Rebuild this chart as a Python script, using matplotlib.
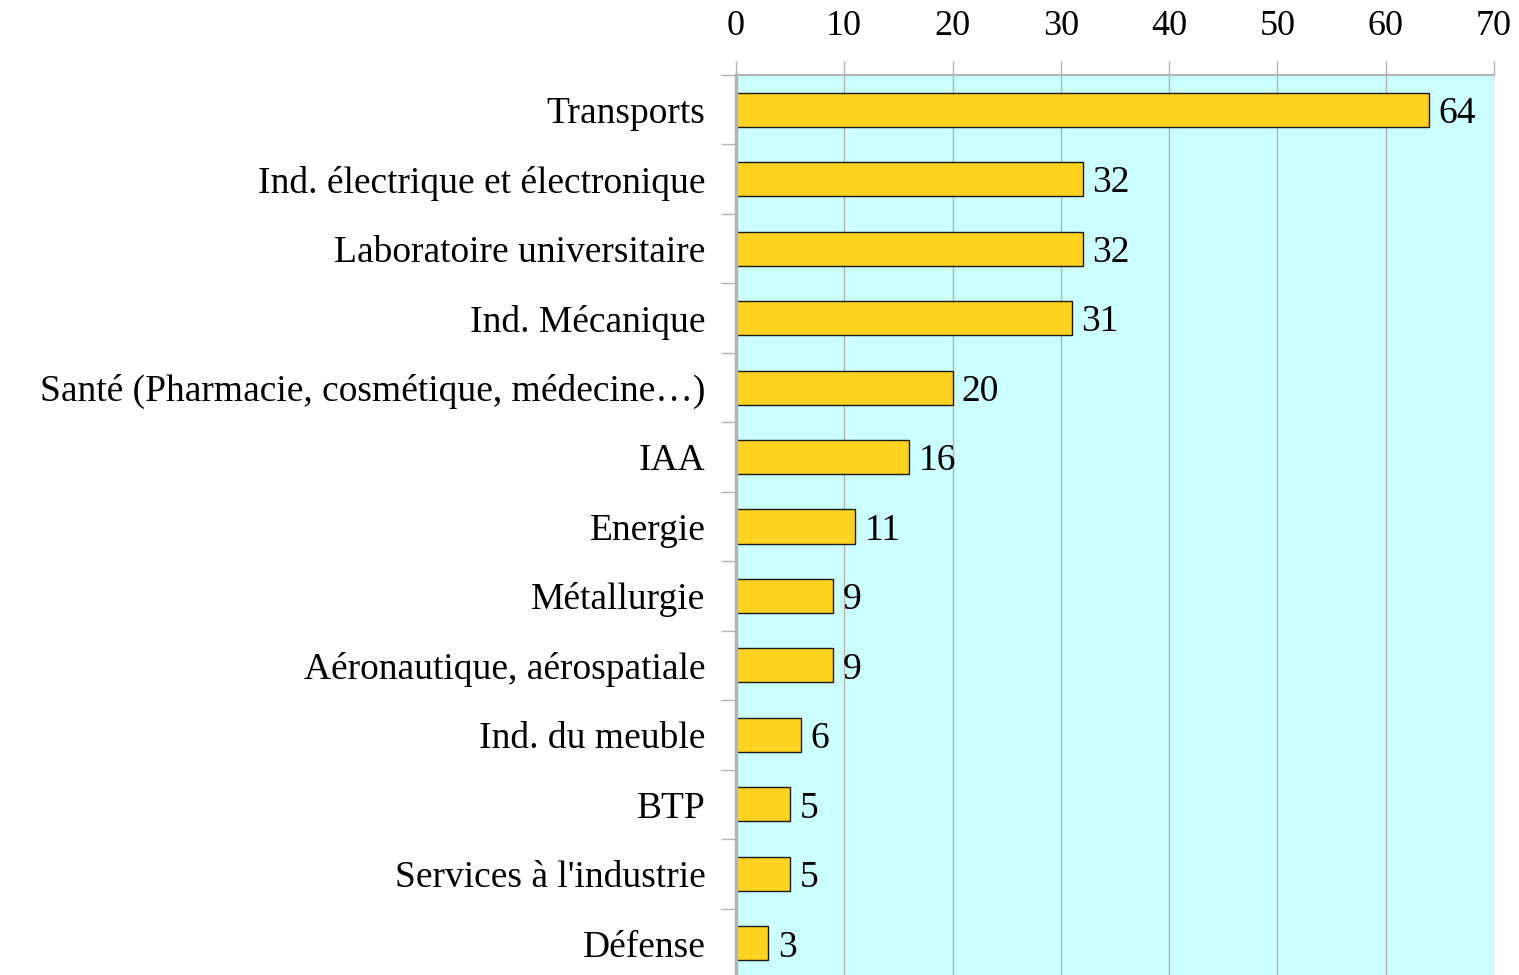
import matplotlib
matplotlib.use("Agg")
import matplotlib.pyplot as plt
import numpy as np

categories = ["Transports", "Ind. électrique et électronique", "Laboratoire universitaire",
              "Ind. Mécanique", "Santé (Pharmacie, cosmétique, médecine…)", "IAA", "Energie",
              "Métallurgie", "Aéronautique, aérospatiale", "Ind. du meuble", "BTP",
              "Services à l'industrie", "Défense"]
values = [64, 32, 32, 31, 20, 16, 11, 9, 9, 6, 5, 5, 3]
xticks = [0, 10, 20, 30, 40, 50, 60, 70]

plt.rcParams['font.family'] = ['Liberation Serif', 'DejaVu Serif']

fig = plt.figure(figsize=(15.19, 9.75), dpi=100)
ax = fig.add_axes([736/1519, 1 - 978/975, (1494-736)/1519, (978-75)/975])
ax.set_facecolor('#CCFFFF')

n = len(categories)
y = np.arange(n)
ax.barh(y, values, height=0.49, color='#FFD320', edgecolor='#1a1a1a', linewidth=1.0, zorder=3)
for yi, v in zip(y, values):
    ax.text(v + 0.85, yi, str(v), va='center_baseline', ha='left', fontsize=27, color='black', zorder=4)

ax.set_xlim(0, 70)
ax.set_ylim(n - 0.5, -0.5)
ax.xaxis.tick_top()
ax.set_xticks(xticks)
ax.set_xticklabels([str(t) for t in xticks], fontsize=26)
ax.tick_params(axis='x', direction='out', length=10, width=1, color='#b3b3b3', pad=13)
ax.grid(axis='x', color='#b3b3b3', linewidth=1, zorder=1)

ax.set_yticks(np.arange(n + 1) - 0.5)
ax.set_yticklabels([])
ax.set_yticks(y, minor=True)
ax.set_yticklabels(categories, minor=True, fontsize=27)
for lab in ax.get_yticklabels(minor=True):
    lab.set_va('center_baseline')
ax.tick_params(axis='y', which='major', direction='out', length=11, width=1, color='#b3b3b3')
ax.tick_params(axis='y', which='minor', length=0, pad=22)

for s in ['right', 'bottom']:
    ax.spines[s].set_visible(False)
ax.spines['top'].set_color('#b3b3b3')
ax.spines['top'].set_linewidth(1.5)
ax.spines['left'].set_color('#b3b3b3')
ax.spines['left'].set_linewidth(2.5)
ax.spines['left'].set_zorder(5)

fig.savefig('out.png', dpi=100)
